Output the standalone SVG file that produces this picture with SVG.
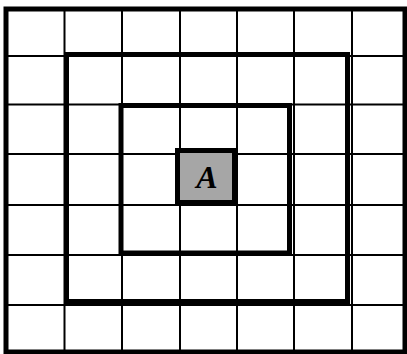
<svg xmlns="http://www.w3.org/2000/svg" width="407" height="354" viewBox="0 0 407 354">
<style>
.grid{stroke:#000;stroke-width:2;fill:none}
.thick{stroke:#000;stroke-width:5;fill:none}
.lbl{font-family:"Liberation Serif",serif;font-style:italic;font-weight:bold;font-size:32px;fill:#000}
</style>
<rect width="407" height="354" fill="#fff"/>
<g id="grid" class="grid">
<line x1="64.5" y1="9" x2="64.5" y2="352"/>
<line x1="122" y1="9" x2="122" y2="352"/>
<line x1="180" y1="9" x2="180" y2="352"/>
<line x1="237" y1="9" x2="237" y2="352"/>
<line x1="294" y1="9" x2="294" y2="352"/>
<line x1="352" y1="9" x2="352" y2="352"/>
<line x1="6" y1="56" x2="405" y2="56"/>
<line x1="6" y1="104.5" x2="405" y2="104.5"/>
<line x1="6" y1="154" x2="405" y2="154"/>
<line x1="6" y1="205" x2="405" y2="205"/>
<line x1="6" y1="255" x2="405" y2="255"/>
<line x1="6" y1="305" x2="405" y2="305"/>
</g>
<g id="outer"><rect class="thick" x="6" y="9" width="399" height="343"/></g>
<g id="ring2"><rect class="thick" x="66.5" y="54.5" width="281" height="247"/></g>
<g id="ring1"><rect class="thick" x="121" y="105.5" width="168.5" height="147.5"/></g>
<g id="nodeA">
<rect x="177.5" y="150.5" width="57" height="52" fill="#a6a6a6" stroke="#000" stroke-width="5"/>
<text class="lbl" x="207" y="188" text-anchor="middle">A</text>
</g>
</svg>
